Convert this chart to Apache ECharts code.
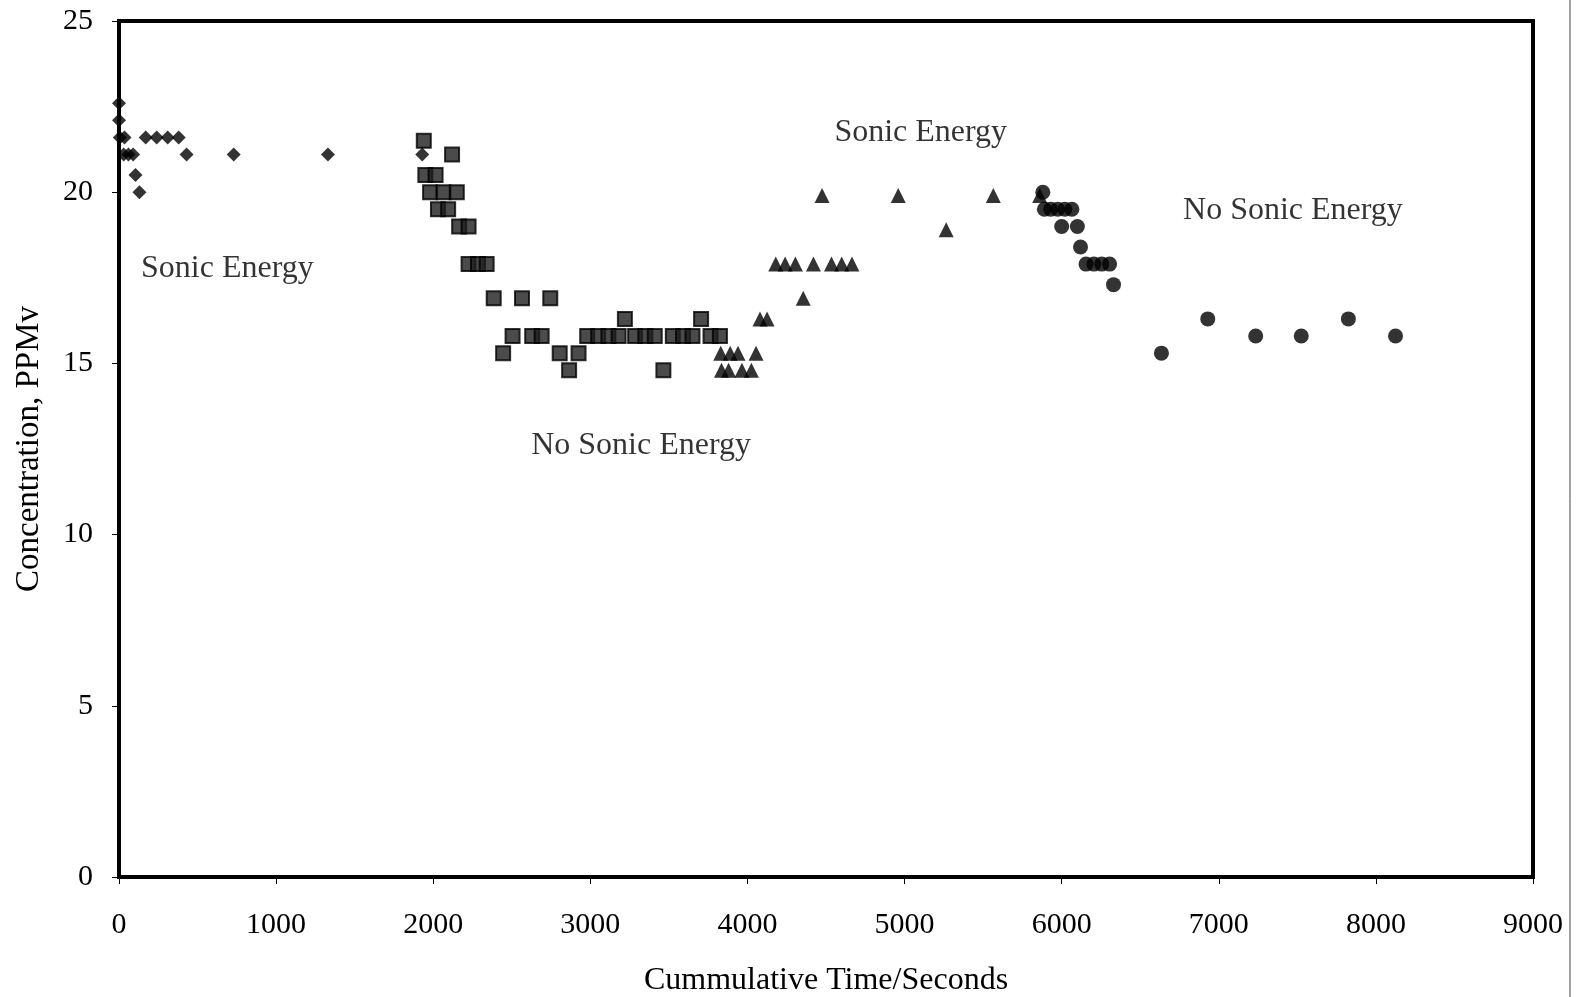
<!DOCTYPE html>
<html>
<head>
<meta charset="utf-8">
<title>Concentration vs Cummulative Time</title>
<script src="https://cdn.jsdelivr.net/npm/echarts@6/dist/echarts.min.js"></script>
<style>
  html, body { margin: 0; padding: 0; background: #fff; }
  #chart { width: 1589px; height: 997px; }
</style>
</head>
<body>
<div id="chart"></div>
<script>
// Run 1: sonic energy on (diamonds)
const run1Time = [0, 0, 5, 35, 30, 60, 90, 105, 130, 170, 240, 310, 380, 430, 730, 1330, 1930];
const run1Conc = [22.6, 22.1, 21.6, 21.6, 21.1, 21.1, 21.1, 20.5, 20.0, 21.6, 21.6, 21.6, 21.6, 21.1, 21.1, 21.1, 21.1];

// Run 2: no sonic energy (squares)
const run2Time = [1940, 2120, 1950, 2015, 1980, 2065, 2150, 2030, 2095, 2165, 2225,
  2225, 2285, 2340, 2385, 2565, 2745, 3220, 3705,
  2505, 2630, 2690, 2980, 3050, 3115, 3180, 3285, 3350, 3410, 3525, 3590, 3650, 3765, 3825,
  2445, 2805, 2925, 2865, 3465];
const run2Conc = [21.5, 21.1, 20.5, 20.5, 20.0, 20.0, 20.0, 19.5, 19.5, 19.0, 19.0,
  17.9, 17.9, 17.9, 16.9, 16.9, 16.9, 16.3, 16.3,
  15.8, 15.8, 15.8, 15.8, 15.8, 15.8, 15.8, 15.8, 15.8, 15.8, 15.8, 15.8, 15.8, 15.8, 15.8,
  15.3, 15.3, 15.3, 14.8, 14.8];

// Run 3: sonic energy on (triangles)
const run3Time = [3830, 3890, 3940, 4055, 3835, 3880, 3965, 4025, 4080, 4125, 4355,
  4180, 4240, 4305, 4420, 4535, 4600, 4665, 5265, 4475, 4960, 5565, 5860];
const run3Conc = [15.3, 15.3, 15.3, 15.3, 14.8, 14.8, 14.8, 14.8, 16.3, 16.3, 16.9,
  17.9, 17.9, 17.9, 17.9, 17.9, 17.9, 17.9, 18.9, 19.9, 19.9, 19.9, 19.9];

// Run 4: no sonic energy (circles)
const run4Time = [5880, 5890, 5930, 5975, 6020, 6065, 6000, 6100, 6120,
  6155, 6205, 6255, 6305, 6330, 6635, 6930, 7235, 7525, 7825, 8125];
const run4Conc = [20.0, 19.5, 19.5, 19.5, 19.5, 19.5, 19.0, 19.0, 18.4,
  17.9, 17.9, 17.9, 17.9, 17.3, 15.3, 16.3, 15.8, 15.8, 16.3, 15.8];

const xTicks = [0, 1000, 2000, 3000, 4000, 5000, 6000, 7000, 8000, 9000];
const yTicks = [0, 5, 10, 15, 20, 25];

// Phase annotations: text, time, concentration at the label centre
const phaseText = ['Sonic Energy', 'No Sonic Energy', 'Sonic Energy', 'No Sonic Energy'];
const phaseTime = [690, 3323, 5103, 7472];
const phaseConc = [17.76, 12.6, 21.75, 19.45];

const pairs = (xs, ys) => xs.map((x, i) => [x, ys[i]]);
const FONT = '"Liberation Serif", "Times New Roman", serif';

const chart = echarts.init(document.getElementById('chart'), null, { renderer: 'canvas' });

const option = {
  backgroundColor: '#fff',
  animation: false,
  textStyle: { fontFamily: FONT, color: '#000' },
  grid: {
    left: 119, right: 56, top: 21, bottom: 120,
    containLabel: false, outerBoundsMode: 'none',
    show: true, borderColor: '#000', borderWidth: 4, backgroundColor: 'transparent'
  },
  xAxis: {
    type: 'value',
    min: xTicks[0], max: xTicks[xTicks.length - 1], interval: 1000,
    name: 'Cummulative Time/Seconds',
    nameLocation: 'middle', nameGap: 88,
    nameTextStyle: { fontFamily: FONT, fontSize: 32, color: '#000' },
    axisLine: { show: false },
    axisTick: { show: true, length: 7, lineStyle: { color: '#000', width: 1 } },
    axisLabel: { fontFamily: FONT, fontSize: 30, color: '#000', margin: 33, formatter: v => String(v) },
    splitLine: { show: false }
  },
  yAxis: {
    type: 'value',
    min: yTicks[0], max: yTicks[yTicks.length - 1], interval: 5,
    name: 'Concentration, PPMv',
    nameLocation: 'middle', nameGap: 73,
    nameTextStyle: { fontFamily: FONT, fontSize: 33, color: '#000' },
    axisLine: { show: false },
    axisTick: { show: true, length: 7, lineStyle: { color: '#000', width: 1 } },
    axisLabel: { fontFamily: FONT, fontSize: 30, color: '#000', margin: 26, formatter: v => String(v) },
    splitLine: { show: false }
  },
  series: [
    {
      name: 'Sonic Energy (run 1)', type: 'scatter', symbol: 'diamond', symbolSize: 14,
      itemStyle: { color: '#000' }, data: pairs(run1Time, run1Conc)
    },
    {
      name: 'No Sonic Energy (run 2)', type: 'scatter', symbol: 'rect', symbolSize: 14,
      itemStyle: { color: '#1e1e1e', borderColor: '#000', borderWidth: 2 },
      data: pairs(run2Time, run2Conc)
    },
    {
      name: 'Sonic Energy (run 3)', type: 'scatter', symbol: 'triangle', symbolSize: [15, 15],
      itemStyle: { color: '#000' }, data: pairs(run3Time, run3Conc)
    },
    {
      name: 'No Sonic Energy (run 4)', type: 'scatter', symbol: 'circle', symbolSize: 15,
      itemStyle: { color: '#000' }, data: pairs(run4Time, run4Conc)
    },
    {
      // phase labels placed in data coordinates
      name: 'phases', type: 'scatter', symbolSize: 0, silent: true,
      data: phaseTime.map((t, i) => ({ value: [t, phaseConc[i]], name: phaseText[i] })),
      label: {
        show: true, position: 'inside', formatter: p => p.name,
        fontFamily: FONT, fontSize: 32, color: '#000'
      }
    }
  ],
  graphic: [
    {
      // page edge line on the right
      type: 'line', silent: true,
      shape: { x1: 1570, y1: 0, x2: 1570, y2: 997 },
      style: { stroke: '#444', lineWidth: 1 }
    }
  ]
};

chart.setOption(option);
</script>
</body>
</html>
